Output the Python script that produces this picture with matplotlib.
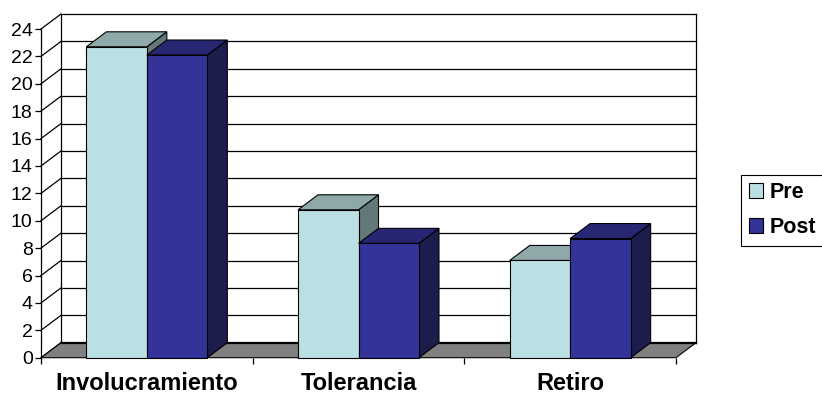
import numpy as np
import matplotlib
matplotlib.use("Agg")
import matplotlib.pyplot as plt
from matplotlib.patches import Polygon, Patch

plt.rcParams["font.family"] = ["Liberation Sans", "DejaVu Sans"]

categories = ["Involucramiento", "Tolerancia", "Retiro"]
pre_vals = [22.7, 10.8, 7.1]
post_vals = [22.1, 8.35, 8.7]
series = ["Pre", "Post"]
yticks = list(range(0, 25, 2))

# colours: front, top, side
pre_cols = ("#BBE0E3", "#8FA9AB", "#627879")
post_cols = ("#333399", "#262673", "#1C1C4D")

W, H = 822, 394
fig = plt.figure(figsize=(W / 100, H / 100), dpi=100)
# axes placed so that the front plane maps onto the reference plot area
x0, x1 = 41, 676
y0, y1 = 357.7, 29
ax = fig.add_axes([x0 / W, (H - y0) / H, (x1 - x0) / W, (y0 - y1) / H])
ax.set_xlim(0, 3)
ax.set_ylim(0, 24)

# depth offset in data units (20 px right, 15 px up)
dx = 20 / ((x1 - x0) / 3)
dy = 15 / ((y0 - y1) / 24)

ymax = 24
# back wall gridlines + side wall diagonals
for v in yticks:
    ax.plot([dx, 3 + dx], [v + dy, v + dy], color="black", lw=0.9, clip_on=False, zorder=1)
    ax.plot([0, dx], [v, v + dy], color="black", lw=0.9, clip_on=False, zorder=1)
ax.plot([dx, dx], [dy, ymax + dy], color="black", lw=0.9, clip_on=False, zorder=1)
ax.plot([3 + dx, 3 + dx], [dy, ymax + dy], color="black", lw=0.9, clip_on=False, zorder=1)

# floor
floor = Polygon([[0, 0], [3, 0], [3 + dx, dy], [dx, dy]], closed=True,
                facecolor="#808080", edgecolor="black", lw=0.8, clip_on=False, zorder=2)
ax.add_patch(floor)
ax.plot([dx, 3 + dx], [dy, dy], color="black", lw=1.6, clip_on=False, zorder=2)

# bars, gap width 150%
bw = 1 / 3.5
z = 3
for i in range(len(categories)):
    for j, (vals, cols) in enumerate([(pre_vals, pre_cols), (post_vals, post_cols)]):
        left = i + 0.75 * bw + j * bw
        right = left + bw
        v = vals[i]
        front = [[left, 0], [right, 0], [right, v], [left, v]]
        top = [[left, v], [right, v], [right + dx, v + dy], [left + dx, v + dy]]
        side = [[right, 0], [right + dx, dy], [right + dx, v + dy], [right, v]]
        for pts, c in [(side, cols[2]), (top, cols[1]), (front, cols[0])]:
            ax.add_patch(Polygon(pts, closed=True, facecolor=c, edgecolor="black",
                                 lw=0.8, clip_on=False, zorder=z))
        z += 1

# axes: only the front vertical axis and category ticks
for s in ["top", "right", "bottom"]:
    ax.spines[s].set_visible(False)
ax.spines["left"].set_linewidth(0.9)
ax.spines["left"].set_zorder(0.5)
ax.set_yticks(yticks)
ax.set_yticklabels([str(t) for t in yticks], fontsize=14)
ax.tick_params(axis="y", length=4, width=0.9, pad=2)
ax.set_xticks([0, 1, 2, 3])
ax.set_xticklabels([])
ax.tick_params(axis="x", which="major", length=4, width=0.9, color="black")
ax.set_xticks([0.5, 1.5, 2.5], minor=True)
ax.set_xticklabels(categories, minor=True, fontsize=17, fontweight="bold")
ax.tick_params(axis="x", which="minor", length=0, pad=10)
ax.patch.set_visible(False)

handles = [Patch(facecolor=pre_cols[0], edgecolor="black", lw=0.8),
           Patch(facecolor=post_cols[0], edgecolor="black", lw=0.8)]
leg = fig.legend(handles, series, loc="upper left",
                 bbox_to_anchor=(741 / W, 1 - 174.5 / H), borderaxespad=0,
                 frameon=True, fancybox=False, edgecolor="black", framealpha=1,
                 prop={"size": 15.5, "weight": "bold"}, handlelength=0.65,
                 handleheight=0.65, handletextpad=0.35, labelspacing=0.65,
                 borderpad=0.35)
leg.get_frame().set_linewidth(0.8)

fig.savefig("out.png", dpi=100)
